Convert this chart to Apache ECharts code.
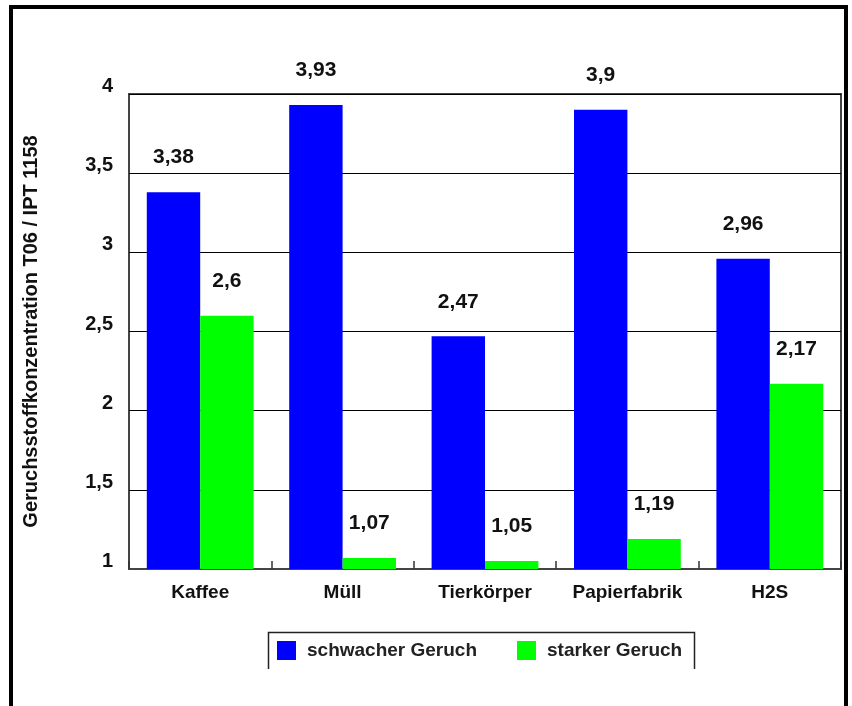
<!DOCTYPE html>
<html>
<head>
<meta charset="utf-8">
<script src="https://cdn.jsdelivr.net/npm/echarts@6/dist/echarts.min.js"></script>
<style>
  html, body { margin: 0; padding: 0; background: #fff; }
  #chart { width: 852px; height: 706px; }
</style>
</head>
<body>
<div id="chart"></div>
<script>
// Odour concentration per source, weak vs. strong smell
const categories = ['Kaffee', 'Müll', 'Tierkörper', 'Papierfabrik', 'H2S'];
const schwach = [3.38, 3.93, 2.47, 3.9, 2.96];
const stark = [2.6, 1.07, 1.05, 1.19, 2.17];
const seriesNames = ['schwacher Geruch', 'starker Geruch'];
const yTicks = { min: 1, max: 4, interval: 0.5 };
const yName = 'Geruchsstoffkonzentration T06 / IPT 1158';

const FONT = '"Liberation Sans", Arial, sans-serif';
const fmt = v => String(v).replace('.', ',');

const chart = echarts.init(document.getElementById('chart'), null, { renderer: 'canvas' });

const valueLabel = {
  show: true,
  position: 'top',
  distance: 24,
  fontFamily: FONT,
  fontWeight: 'bold',
  fontSize: 21,
  color: '#111',
  formatter: p => fmt(p.value)
};

chart.setOption({
  animation: false,
  backgroundColor: '#fff',
  grid: {
    left: 129, top: 94, right: 11, bottom: 137,
    show: true, borderColor: '#444', borderWidth: 2, backgroundColor: 'transparent'
  },
  legend: {
    data: seriesNames,
    left: 277, top: 641,
    padding: 0,
    itemWidth: 19, itemHeight: 19,
    itemGap: 40,
    icon: 'rect',
    textStyle: {
      fontFamily: FONT, fontWeight: 'bold', fontSize: 19, color: '#222',
      padding: [0, 0, 0, 6]
    }
  },
  xAxis: {
    type: 'category',
    data: categories,
    axisLine: { show: true, lineStyle: { color: '#444', width: 2 } },
    axisTick: { show: true, inside: true, length: 8, interval: 0, lineStyle: { color: '#333', width: 1.5 } },
    axisLabel: {
      interval: 0,
      margin: 14, fontFamily: FONT, fontWeight: 'bold', fontSize: 19, color: '#111'
    }
  },
  yAxis: {
    type: 'value',
    min: yTicks.min, max: yTicks.max, interval: yTicks.interval,
    name: yName,
    nameLocation: 'middle',
    nameRotate: 90,
    nameGap: 88,
    nameTextStyle: { fontFamily: FONT, fontWeight: 'bold', fontSize: 20, color: '#111' },
    axisLine: { show: false },
    axisTick: { show: false },
    splitLine: { show: true, lineStyle: { color: '#000', width: 1 } },
    axisLabel: {
      margin: 16, fontFamily: FONT, fontWeight: 'bold', fontSize: 20, color: '#111',
      verticalAlign: 'bottom',
      lineHeight: 15,
      formatter: v => fmt(v)
    }
  },
  series: [
    {
      name: seriesNames[0], type: 'bar', data: schwach,
      barGap: '0%', barCategoryGap: '25%',
      itemStyle: { color: '#0000ff' },
      label: valueLabel
    },
    {
      name: seriesNames[1], type: 'bar', data: stark,
      itemStyle: { color: '#00ff00' },
      label: valueLabel
    }
  ],
  graphic: [
    // outer frame: left, top and right edges
    {
      type: 'polyline', silent: true,
      shape: { points: [[11, 706], [11, 7], [846, 7], [846, 706]] },
      style: { stroke: '#000', lineWidth: 4, fill: null }
    },
    // legend box, open at the bottom
    {
      type: 'polyline', silent: true,
      shape: { points: [[268.5, 669], [268.5, 632.5], [694.5, 632.5], [694.5, 669]] },
      style: { stroke: '#222', lineWidth: 1.5, fill: null }
    }
  ]
});
</script>
</body>
</html>
